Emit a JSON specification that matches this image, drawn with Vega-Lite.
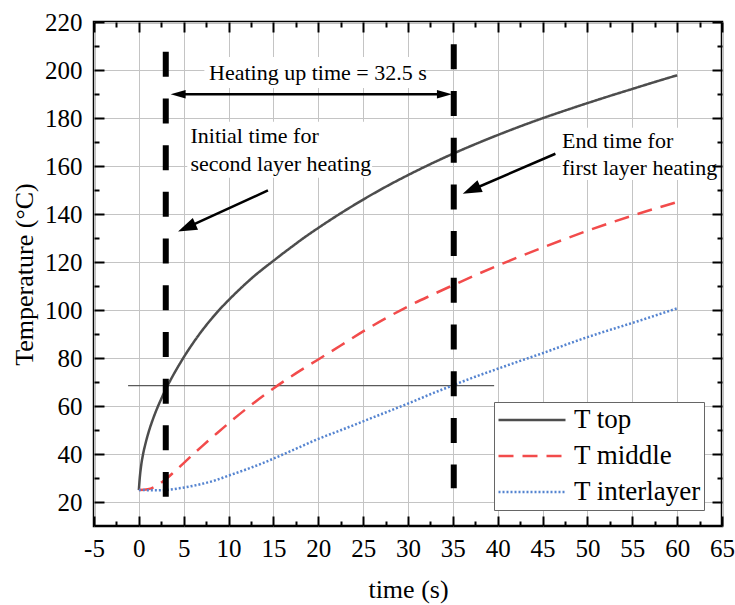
{
  "$schema": "https://vega.github.io/schema/vega-lite/v6.json",
  "width": 628,
  "height": 504,
  "autosize": {"type": "none"},
  "padding": {"left": 94, "top": 22, "right": 13, "bottom": 79},
  "background": "white",
  "config": {
    "font": "Liberation Serif",
    "view": {"stroke": "black", "strokeWidth": 2.5},
    "axis": {
      "domain": false,
      "labelFont": "Liberation Serif",
      "titleFont": "Liberation Serif",
      "labelFontWeight": "normal",
      "labelColor": "black",
      "titleColor": "black",
      "tickColor": "black",
      "tickWidth": 2,
      "labelFlush": false,
      "labelOverlap": false,
      "labelBound": false,
      "gridColor": "#c4c4c4",
      "gridWidth": 1,
      "titleFontWeight": "normal"
    },
    "legend": {
      "labelFont": "Liberation Serif",
      "labelFontWeight": "normal"
    },
    "text": {"font": "Liberation Serif", "fontWeight": "normal"}
  },
  "datasets": {
    "curves": [
      {"series": "T top", "t": 0, "temp": 25},
      {"series": "T top", "t": 0.1, "temp": 30},
      {"series": "T top", "t": 0.25, "temp": 35},
      {"series": "T top", "t": 0.5, "temp": 40.5},
      {"series": "T top", "t": 0.75, "temp": 44.5},
      {"series": "T top", "t": 1, "temp": 48},
      {"series": "T top", "t": 1.5, "temp": 53.8},
      {"series": "T top", "t": 2, "temp": 58.7},
      {"series": "T top", "t": 2.5, "temp": 63},
      {"series": "T top", "t": 3, "temp": 67},
      {"series": "T top", "t": 3.5, "temp": 70.6},
      {"series": "T top", "t": 4, "temp": 74},
      {"series": "T top", "t": 4.5, "temp": 77.2},
      {"series": "T top", "t": 5, "temp": 80.3},
      {"series": "T top", "t": 6, "temp": 86},
      {"series": "T top", "t": 7, "temp": 91.2},
      {"series": "T top", "t": 8, "temp": 95.9},
      {"series": "T top", "t": 9, "temp": 100.2},
      {"series": "T top", "t": 10, "temp": 104.1},
      {"series": "T top", "t": 11, "temp": 107.8},
      {"series": "T top", "t": 12, "temp": 111.3},
      {"series": "T top", "t": 13, "temp": 114.6},
      {"series": "T top", "t": 14, "temp": 117.6},
      {"series": "T top", "t": 15, "temp": 120.5},
      {"series": "T top", "t": 16, "temp": 123.4},
      {"series": "T top", "t": 17, "temp": 126.2},
      {"series": "T top", "t": 18, "temp": 129},
      {"series": "T top", "t": 20, "temp": 134.2},
      {"series": "T top", "t": 22.5, "temp": 140.3},
      {"series": "T top", "t": 25, "temp": 146},
      {"series": "T top", "t": 27.5, "temp": 151.3},
      {"series": "T top", "t": 30, "temp": 156.2},
      {"series": "T top", "t": 32.5, "temp": 160.8},
      {"series": "T top", "t": 35, "temp": 165.1},
      {"series": "T top", "t": 37.5, "temp": 169.1},
      {"series": "T top", "t": 40, "temp": 172.9},
      {"series": "T top", "t": 42.5, "temp": 176.5},
      {"series": "T top", "t": 45, "temp": 179.9},
      {"series": "T top", "t": 47.5, "temp": 183.1},
      {"series": "T top", "t": 50, "temp": 186.2},
      {"series": "T top", "t": 52.5, "temp": 189.2},
      {"series": "T top", "t": 55, "temp": 192.1},
      {"series": "T top", "t": 57.5, "temp": 195},
      {"series": "T top", "t": 60, "temp": 197.8},
      {"series": "T middle", "t": 0, "temp": 25},
      {"series": "T middle", "t": 1, "temp": 25.3},
      {"series": "T middle", "t": 2, "temp": 26.8},
      {"series": "T middle", "t": 3, "temp": 29.5},
      {"series": "T middle", "t": 4, "temp": 32.8},
      {"series": "T middle", "t": 5, "temp": 36.2},
      {"series": "T middle", "t": 6, "temp": 39.7},
      {"series": "T middle", "t": 7, "temp": 43.1},
      {"series": "T middle", "t": 8, "temp": 46.4},
      {"series": "T middle", "t": 9, "temp": 49.6},
      {"series": "T middle", "t": 10, "temp": 52.8},
      {"series": "T middle", "t": 12, "temp": 58.9},
      {"series": "T middle", "t": 14, "temp": 64.6},
      {"series": "T middle", "t": 15, "temp": 67.3},
      {"series": "T middle", "t": 17.5, "temp": 73.6},
      {"series": "T middle", "t": 20, "temp": 79.4},
      {"series": "T middle", "t": 22.5, "temp": 85.2},
      {"series": "T middle", "t": 25, "temp": 91.1},
      {"series": "T middle", "t": 27.5, "temp": 96.5},
      {"series": "T middle", "t": 30, "temp": 101.5},
      {"series": "T middle", "t": 32.5, "temp": 106},
      {"series": "T middle", "t": 35, "temp": 110.3},
      {"series": "T middle", "t": 37.5, "temp": 114.5},
      {"series": "T middle", "t": 40, "temp": 118.5},
      {"series": "T middle", "t": 45, "temp": 126},
      {"series": "T middle", "t": 50, "temp": 133},
      {"series": "T middle", "t": 55, "temp": 139.3},
      {"series": "T middle", "t": 60, "temp": 145},
      {"series": "T interlayer", "t": 0, "temp": 25},
      {"series": "T interlayer", "t": 2, "temp": 24.9},
      {"series": "T interlayer", "t": 3, "temp": 25},
      {"series": "T interlayer", "t": 4.5, "temp": 25.7},
      {"series": "T interlayer", "t": 6.5, "temp": 27.1},
      {"series": "T interlayer", "t": 8.5, "temp": 29},
      {"series": "T interlayer", "t": 10, "temp": 31},
      {"series": "T interlayer", "t": 12, "temp": 33.6},
      {"series": "T interlayer", "t": 14, "temp": 36.5},
      {"series": "T interlayer", "t": 16, "temp": 39.7},
      {"series": "T interlayer", "t": 18, "temp": 43},
      {"series": "T interlayer", "t": 20, "temp": 46.3},
      {"series": "T interlayer", "t": 22.5, "temp": 49.9},
      {"series": "T interlayer", "t": 25, "temp": 53.6},
      {"series": "T interlayer", "t": 27.5, "temp": 57.3},
      {"series": "T interlayer", "t": 30, "temp": 61},
      {"series": "T interlayer", "t": 32.5, "temp": 64.9},
      {"series": "T interlayer", "t": 35, "temp": 68.6},
      {"series": "T interlayer", "t": 37.5, "temp": 72.2},
      {"series": "T interlayer", "t": 40, "temp": 75.5},
      {"series": "T interlayer", "t": 42.5, "temp": 78.8},
      {"series": "T interlayer", "t": 45, "temp": 82},
      {"series": "T interlayer", "t": 47.5, "temp": 85.4},
      {"series": "T interlayer", "t": 50, "temp": 88.7},
      {"series": "T interlayer", "t": 52.5, "temp": 91.7},
      {"series": "T interlayer", "t": 55, "temp": 94.6},
      {"series": "T interlayer", "t": 57.5, "temp": 97.6},
      {"series": "T interlayer", "t": 60, "temp": 100.7}
    ],
    "boxes": [
      {"x1": 7.3, "x2": 31.8, "y1": 192.5, "y2": 205.4},
      {"x1": 5.4, "x2": 26.0, "y1": 155.1, "y2": 178.4},
      {"x1": 47.0, "x2": 63.9, "y1": 154.2, "y2": 175.9}
    ],
    "markers": [
      {"x": 3.0, "ytop": 207.6, "ybottom": 22.2},
      {"x": 35.1, "ytop": 210.7, "ybottom": 25.7}
    ],
    "refline": [
      {"x1": -1.2, "x2": 39.6, "y": 68.5}
    ],
    "arrowlines": [
      {"x1": 4.5, "y1": 189.9, "x2": 34.0, "y2": 189.9, "w": "thin"},
      {"x1": 14.39, "y1": 149.8, "x2": 5.38, "y2": 134.4, "w": "thick"},
      {"x1": 46.43, "y1": 165.1, "x2": 37.13, "y2": 150.1, "w": "thick"}
    ],
    "headLeft": [{"x": 3.54, "y": 189.9}],
    "headRight": [{"x": 34.9, "y": 189.9}],
    "headDiag": [{"x": 4.37, "y": 132.7}, {"x": 36.1, "y": 148.4}],
    "notes": [
      {"label": "Heating up time = 32.5 s", "x": 7.82, "y": 195.9},
      {"label": "Initial time for", "x": 5.75, "y": 169.5},
      {"label": "second layer heating", "x": 5.75, "y": 158.1},
      {"label": "End time for", "x": 47.17, "y": 167.4},
      {"label": "first layer heating", "x": 47.17, "y": 156.1}
    ]
  },
  "layer": [
    {
      "data": {"name": "boxes"},
      "mark": {"type": "rect", "fill": "white", "stroke": null},
      "encoding": {
        "x": {"field": "x1", "type": "quantitative", "scale": {"domain": [-5, 65], "nice": false, "zero": false}, "axis": null},
        "x2": {"field": "x2"},
        "y": {"field": "y1", "type": "quantitative", "scale": {"domain": [10, 220], "nice": false, "zero": false}, "axis": null},
        "y2": {"field": "y2"}
      }
    },
    {
      "data": {"name": "refline"},
      "mark": {"type": "rule", "color": "#5a5a5a", "strokeWidth": 1.2},
      "encoding": {
        "x": {"field": "x1", "type": "quantitative", "scale": {"domain": [-5, 65], "nice": false, "zero": false}, "axis": null},
        "x2": {"field": "x2"},
        "y": {"field": "y", "type": "quantitative", "scale": {"domain": [10, 220], "nice": false, "zero": false}, "axis": null}
      }
    },
    {
      "data": {"name": "curves"},
      "mark": {"type": "line", "interpolate": "monotone"},
      "encoding": {
        "x": {
          "field": "t", "type": "quantitative",
          "scale": {"domain": [-5, 65], "nice": false, "zero": false},
          "axis": {
            "orient": "bottom",
            "values": [-5, 0, 5, 10, 15, 20, 25, 30, 35, 40, 45, 50, 55, 60, 65],
            "title": "time (s)",
            "grid": true,
            "tickSize": -10,
            "labelPadding": 20,
            "labelFont": "Liberation Serif",
            "labelFontWeight": "normal",
            "labelFontSize": 25,
            "titleFontSize": 26,
            "titlePadding": 15,
            "labelExpr": "replace(datum.label, '\u2212', '-')"
          }
        },
        "y": {
          "field": "temp", "type": "quantitative",
          "scale": {"domain": [10, 220], "nice": false, "zero": false},
          "axis": {
            "orient": "left",
            "values": [20, 40, 60, 80, 100, 120, 140, 160, 180, 200, 220],
            "title": "Temperature (°C)",
            "grid": true,
            "tickSize": -10,
            "labelPadding": 22,
            "labelFont": "Liberation Serif",
            "labelFontWeight": "normal",
            "labelFontSize": 25,
            "titleFontSize": 26,
            "titlePadding": 7
          }
        },
        "color": {
          "field": "series", "type": "nominal",
          "scale": {"domain": ["T top", "T middle", "T interlayer"], "range": ["#4d4d4d", "#f24b4b", "#5584d0"]},
          "legend": {
            "title": null, "orient": "none", "legendX": 400, "legendY": 380,
            "symbolType": "stroke", "symbolSize": 4489, "symbolStrokeWidth": 2.5,
            "labelFont": "Liberation Serif", "labelFontWeight": "normal",
            "labelFontSize": 27, "labelColor": "black",
            "fillColor": "white", "strokeColor": "#666666", "padding": 3, "rowPadding": 6,
            "clipHeight": 30, "labelOffset": 7, "symbolOffset": 0, "labelLimit": 300
          }
        },
        "strokeDash": {
          "field": "series", "type": "nominal",
          "scale": {"domain": ["T top", "T middle", "T interlayer"], "range": [[1, 0], [15, 9], [2, 2]]},
          "legend": {
            "title": null, "orient": "none", "legendX": 400, "legendY": 380,
            "symbolType": "stroke", "symbolSize": 4489, "symbolStrokeWidth": 2.5,
            "labelFont": "Liberation Serif", "labelFontWeight": "normal",
            "labelFontSize": 27, "labelColor": "black",
            "fillColor": "white", "strokeColor": "#666666", "padding": 3, "rowPadding": 6,
            "clipHeight": 30, "labelOffset": 7, "symbolOffset": 0, "labelLimit": 300
          }
        },
        "strokeWidth": {
          "field": "series", "type": "nominal",
          "scale": {"domain": ["T top", "T middle", "T interlayer"], "range": [2.5, 2.5, 1.5]},
          "legend": null
        }
      }
    },
    {
      "data": {"name": "markers"},
      "mark": {"type": "rule", "color": "black", "strokeWidth": 6, "strokeDash": [25, 21.7], "strokeCap": "butt"},
      "encoding": {
        "x": {
          "field": "x", "type": "quantitative",
          "scale": {"domain": [-5, 65], "nice": false, "zero": false},
          "axis": {"orient": "top", "values": [-5, 0, 5, 10, 15, 20, 25, 30, 35, 40, 45, 50, 55, 60, 65], "labels": false, "grid": false, "title": null, "tickSize": -10}
        },
        "y": {
          "field": "ytop", "type": "quantitative",
          "scale": {"domain": [10, 220], "nice": false, "zero": false},
          "axis": {"orient": "right", "values": [20, 40, 60, 80, 100, 120, 140, 160, 180, 200, 220], "labels": false, "grid": false, "title": null, "tickSize": -10}
        },
        "y2": {"field": "ybottom"}
      }
    },
    {
      "data": {"name": "arrowlines"},
      "mark": {"type": "rule", "color": "black", "strokeCap": "butt"},
      "encoding": {
        "x": {
          "field": "x1", "type": "quantitative",
          "scale": {"domain": [-5, 65], "nice": false, "zero": false},
          "axis": {"orient": "bottom", "values": [-2.5, 2.5, 7.5, 12.5, 17.5, 22.5, 27.5, 32.5, 37.5, 42.5, 47.5, 52.5, 57.5, 62.5], "labels": false, "grid": false, "title": null, "tickSize": -5}
        },
        "x2": {"field": "x2"},
        "y": {
          "field": "y1", "type": "quantitative",
          "scale": {"domain": [10, 220], "nice": false, "zero": false},
          "axis": {"orient": "left", "values": [30, 50, 70, 90, 110, 130, 150, 170, 190, 210], "labels": false, "grid": false, "title": null, "tickSize": -5}
        },
        "y2": {"field": "y2"},
        "strokeWidth": {"field": "w", "type": "nominal", "scale": {"domain": ["thin", "thick"], "range": [2, 3.5]}, "legend": null}
      }
    },
    {
      "data": {"name": "headLeft"},
      "mark": {"type": "point", "shape": "M0,0L0.58,2L-0.58,2Z", "angle": 270, "size": 225, "filled": true, "color": "black", "opacity": 1, "strokeWidth": 0},
      "encoding": {
        "x": {
          "field": "x", "type": "quantitative",
          "scale": {"domain": [-5, 65], "nice": false, "zero": false},
          "axis": {"orient": "top", "values": [-2.5, 2.5, 7.5, 12.5, 17.5, 22.5, 27.5, 32.5, 37.5, 42.5, 47.5, 52.5, 57.5, 62.5], "labels": false, "grid": false, "title": null, "tickSize": -5}
        },
        "y": {
          "field": "y", "type": "quantitative",
          "scale": {"domain": [10, 220], "nice": false, "zero": false},
          "axis": {"orient": "right", "values": [30, 50, 70, 90, 110, 130, 150, 170, 190, 210], "labels": false, "grid": false, "title": null, "tickSize": -5}
        }
      }
    },
    {
      "data": {"name": "headRight"},
      "mark": {"type": "point", "shape": "M0,0L0.58,2L-0.58,2Z", "angle": 90, "size": 225, "filled": true, "color": "black", "opacity": 1, "strokeWidth": 0},
      "encoding": {
        "x": {"field": "x", "type": "quantitative", "scale": {"domain": [-5, 65], "nice": false, "zero": false}, "axis": null},
        "y": {"field": "y", "type": "quantitative", "scale": {"domain": [10, 220], "nice": false, "zero": false}, "axis": null}
      }
    },
    {
      "data": {"name": "headDiag"},
      "mark": {"type": "point", "shape": "M0,0L0.68,2L-0.68,2Z", "angle": 246, "size": 361, "filled": true, "color": "black", "opacity": 1, "strokeWidth": 0},
      "encoding": {
        "x": {"field": "x", "type": "quantitative", "scale": {"domain": [-5, 65], "nice": false, "zero": false}, "axis": null},
        "y": {"field": "y", "type": "quantitative", "scale": {"domain": [10, 220], "nice": false, "zero": false}, "axis": null}
      }
    },
    {
      "data": {"name": "notes"},
      "mark": {"type": "text", "align": "left", "baseline": "alphabetic", "font": "Liberation Serif", "fontWeight": "normal", "fontSize": 22, "color": "black"},
      "encoding": {
        "x": {"field": "x", "type": "quantitative", "scale": {"domain": [-5, 65], "nice": false, "zero": false}, "axis": null},
        "y": {"field": "y", "type": "quantitative", "scale": {"domain": [10, 220], "nice": false, "zero": false}, "axis": null},
        "text": {"field": "label"}
      }
    }
  ],
  "resolve": {"axis": {"x": "independent", "y": "independent"}}
}
